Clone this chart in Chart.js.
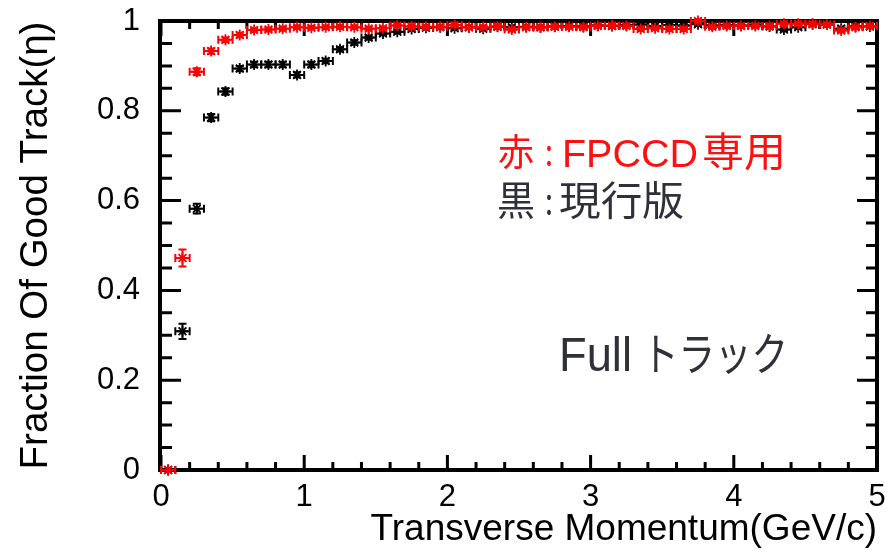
<!DOCTYPE html>
<html>
<head>
<meta charset="utf-8">
<script src="https://cdn.jsdelivr.net/npm/chart.js@4/dist/chart.umd.min.js"></script>
<style>
  html, body { margin: 0; padding: 0; background: #ffffff; }
  canvas { display: block; }
</style>
</head>
<body>
<canvas id="eff" width="891" height="553"></canvas>
<script>
// Transverse-momentum bin centres (GeV/c), 0.1 GeV/c wide bins
const ptBins = [
  0.05, 0.15, 0.25, 0.35, 0.45, 0.55, 0.65, 0.75, 0.85, 0.95,
  1.05, 1.15, 1.25, 1.35, 1.45, 1.55, 1.65, 1.75, 1.85, 1.95,
  2.05, 2.15, 2.25, 2.35, 2.45, 2.55, 2.65, 2.75, 2.85, 2.95,
  3.05, 3.15, 3.25, 3.35, 3.45, 3.55, 3.65, 3.75, 3.85, 3.95,
  4.05, 4.15, 4.25, 4.35, 4.45, 4.55, 4.65, 4.75, 4.85, 4.95
];
const binHalfWidth = 0.05;

// FPCCD-dedicated tracking: fraction of good tracks and its error
const fpccdEff = [
  0.000, 0.472, 0.887, 0.933, 0.958, 0.969, 0.980, 0.981, 0.983, 0.986,
  0.985, 0.986, 0.987, 0.986, 0.983, 0.984, 0.990, 0.988, 0.987, 0.987,
  0.991, 0.986, 0.986, 0.988, 0.981, 0.986, 0.986, 0.987, 0.987, 0.986,
  0.989, 0.990, 0.989, 0.982, 0.984, 0.982, 0.982, 1.000, 0.987, 0.989,
  0.989, 0.989, 0.989, 0.994, 0.994, 0.994, 0.992, 0.979, 0.986, 0.989
];
const fpccdErr = [
  0.000, 0.019, 0.008, 0.006, 0.005, 0.005, 0.004, 0.004, 0.004, 0.004,
  0.004, 0.004, 0.004, 0.004, 0.004, 0.004, 0.004, 0.004, 0.004, 0.004,
  0.004, 0.004, 0.004, 0.004, 0.004, 0.004, 0.004, 0.004, 0.004, 0.004,
  0.004, 0.004, 0.004, 0.004, 0.004, 0.004, 0.004, 0.004, 0.004, 0.004,
  0.004, 0.004, 0.004, 0.004, 0.004, 0.004, 0.004, 0.004, 0.004, 0.004
];

// Current tracking: fraction of good tracks and its error
const currentEff = [
  0.000, 0.309, 0.582, 0.785, 0.843, 0.894, 0.903, 0.903, 0.903, 0.880,
  0.903, 0.911, 0.937, 0.952, 0.963, 0.972, 0.976, 0.982, 0.985, 0.986,
  0.984, 0.986, 0.983, 0.987, 0.986, 0.987, 0.986, 0.988, 0.989, 0.988,
  0.990, 0.989, 0.991, 0.992, 0.989, 0.991, 0.990, 0.993, 0.990, 0.991,
  0.990, 0.992, 0.988, 0.981, 0.986, 0.993, 0.992, 0.983, 0.988, 0.988
];
const currentErr = [
  0.000, 0.017, 0.011, 0.008, 0.007, 0.006, 0.006, 0.006, 0.006, 0.006,
  0.006, 0.005, 0.005, 0.005, 0.004, 0.004, 0.004, 0.004, 0.004, 0.004,
  0.004, 0.004, 0.004, 0.004, 0.004, 0.004, 0.004, 0.004, 0.004, 0.004,
  0.004, 0.004, 0.004, 0.004, 0.004, 0.004, 0.004, 0.004, 0.004, 0.004,
  0.004, 0.004, 0.004, 0.004, 0.004, 0.004, 0.004, 0.004, 0.004, 0.004
];

// Axis tick values
const xMajorTicks = [0, 1, 2, 3, 4, 5];
const yMajorTicks = [0, 0.2, 0.4, 0.6, 0.8, 1];
const xMinorStep = 0.2;
const yMinorStep = 0.05;

const RED = '#ff0000';
const BLACK = '#000000';
const AXIS_FONT = "'Liberation Sans', Arial, sans-serif";
const JP_FONT = "'Noto Sans CJK JP', 'Noto Sans', sans-serif";

function toPoints(ys, errs) {
  return ptBins.map((x, i) => ({ x: x, y: ys[i], ex: binHalfWidth, ey: errs[i] }));
}

// Horizontal (bin width) and vertical (statistical) error bars with end caps
const errorBars = {
  id: 'errorBars',
  afterDatasetDraw(chart, args) {
    const { ctx, scales: { x: xs, y: ys } } = chart;
    const ds = chart.data.datasets[args.index];
    const cap = 4;
    ctx.save();
    ctx.strokeStyle = ds.borderColor;
    ctx.lineWidth = 2;
    ds.data.forEach(p => {
      const px = xs.getPixelForValue(p.x);
      const py = ys.getPixelForValue(p.y);
      const x0 = xs.getPixelForValue(p.x - p.ex);
      const x1 = xs.getPixelForValue(p.x + p.ex);
      const y0 = ys.getPixelForValue(p.y - p.ey);
      const y1 = ys.getPixelForValue(p.y + p.ey);
      ctx.beginPath();
      ctx.moveTo(x0, py); ctx.lineTo(x1, py);
      ctx.moveTo(x0, py - cap); ctx.lineTo(x0, py + cap);
      ctx.moveTo(x1, py - cap); ctx.lineTo(x1, py + cap);
      if (p.ey > 0) {
        ctx.moveTo(px, y0); ctx.lineTo(px, y1);
        ctx.moveTo(px - cap, y0); ctx.lineTo(px + cap, y0);
        ctx.moveTo(px - cap, y1); ctx.lineTo(px + cap, y1);
      }
      ctx.stroke();
      ctx.fillStyle = ds.borderColor;
      ctx.fillRect(px - 2, py - 2, 4, 4);
    });
    ctx.restore();
  }
};

// Thick frame with inward ticks on all four sides
const frame = {
  id: 'frame',
  beforeDatasetsDraw(chart) {
    const { ctx, chartArea: a, scales: { x: xs, y: ys } } = chart;
    ctx.save();
    ctx.strokeStyle = '#000';
    ctx.lineCap = 'butt';
    ctx.lineWidth = 3;
    ctx.beginPath();
    const nx = Math.round((xs.max - xs.min) / xMinorStep);
    for (let i = 0; i <= nx; i++) {
      const v = xs.min + i * xMinorStep;
      const major = xMajorTicks.some(t => Math.abs(t - v) < 1e-6);
      const len = major ? 15 : 8;
      const px = xs.getPixelForValue(v);
      ctx.moveTo(px, a.bottom); ctx.lineTo(px, a.bottom - len);
      ctx.moveTo(px, a.top); ctx.lineTo(px, a.top + len);
    }
    const ny = Math.round((ys.max - ys.min) / yMinorStep);
    for (let i = 0; i <= ny; i++) {
      const v = ys.min + i * yMinorStep;
      const major = yMajorTicks.some(t => Math.abs(t - v) < 1e-6);
      const len = major ? 20 : 11;
      const py = ys.getPixelForValue(v);
      ctx.moveTo(a.left, py); ctx.lineTo(a.left + len, py);
      ctx.moveTo(a.right, py); ctx.lineTo(a.right - len, py);
    }
    ctx.stroke();
    ctx.lineWidth = 4;
    ctx.strokeRect(a.left - 1, a.top, a.right - a.left + 1, a.bottom - a.top);
    ctx.restore();
  }
};

// Text pieces squeezed or stretched to a given width
function fittedText(ctx, text, x, y, font, color, width) {
  ctx.save();
  ctx.font = font;
  ctx.fillStyle = color;
  ctx.textBaseline = 'alphabetic';
  const w = ctx.measureText(text).width;
  ctx.translate(x, y);
  if (width) ctx.scale(width / w, 1);
  ctx.fillText(text, 0, 0);
  ctx.restore();
}
const notes = {
  id: 'notes',
  afterDraw(chart) {
    const { ctx } = chart;
    const red = '#ff1010', dark = '#30303a';
    const jp37 = '37px ' + JP_FONT, jp40 = '40px ' + JP_FONT;
    fittedText(ctx, '赤', 498, 166, jp37, red, 36);
    fittedText(ctx, ':', 545, 166, jp37, red, 8);
    fittedText(ctx, 'FPCCD', 562, 167, '38px ' + AXIS_FONT, red, 136);
    fittedText(ctx, '専用', 702, 166, jp40, red, 84);
    fittedText(ctx, '黒', 497, 215, jp40, dark, 38);
    fittedText(ctx, ':', 545, 215, jp37, dark, 8);
    fittedText(ctx, '現行版', 559, 215, jp40, dark, 125);
    fittedText(ctx, 'Full', 559, 371, '48px ' + AXIS_FONT, dark, 73);
    fittedText(ctx, 'トラック', 642, 371, '45px ' + JP_FONT, dark, 146);
  }
};

new Chart(document.getElementById('eff'), {
  type: 'scatter',
  data: {
    datasets: [
      {
        label: 'FPCCD専用',
        data: toPoints(fpccdEff, fpccdErr),
        borderColor: RED,
        backgroundColor: RED,
        pointStyle: 'star',
        pointRadius: 5.5,
        pointBorderWidth: 1.8,
        clip: false
      },
      {
        label: '現行版',
        data: toPoints(currentEff, currentErr),
        borderColor: BLACK,
        backgroundColor: BLACK,
        pointStyle: 'star',
        pointRadius: 5.5,
        pointBorderWidth: 1.8,
        clip: false
      }
    ]
  },
  options: {
    responsive: false,
    animation: false,
    events: [],
    layout: { padding: { left: 0, right: 14, top: 21, bottom: 0 } },
    plugins: { legend: { display: false }, tooltip: { enabled: false } },
    scales: {
      x: {
        type: 'linear',
        min: 0, max: 5,
        grid: { display: false, drawTicks: false },
        border: { display: false },
        afterBuildTicks: s => { s.ticks = xMajorTicks.map(v => ({ value: v })); },
        afterFit: s => { s.height = 83; s.paddingLeft = 0; s.paddingRight = 0; },
        ticks: {
          color: '#000',
          font: { family: AXIS_FONT, size: 31 },
          padding: 9,
          maxRotation: 0,
          autoSkip: false,
          callback: v => String(v)
        },
        title: {
          display: true,
          text: 'Transverse Momentum(GeV/c)',
          align: 'end',
          color: '#000',
          font: { family: AXIS_FONT, size: 37 },
          padding: { top: 0, bottom: 1 }
        }
      },
      y: {
        type: 'linear',
        min: 0, max: 1,
        grid: { display: false, drawTicks: false },
        border: { display: false },
        afterBuildTicks: s => { s.ticks = yMajorTicks.map(v => ({ value: v })); },
        afterFit: s => { s.width = 161; s.paddingTop = 0; s.paddingBottom = 0; },
        ticks: {
          color: '#000',
          font: { family: AXIS_FONT, size: 31 },
          padding: 21,
          autoSkip: false,
          callback: v => String(v)
        },
        title: {
          display: true,
          text: 'Fraction Of Good Track(η)',
          align: 'center',
          color: '#000',
          font: { family: AXIS_FONT, size: 38.5 },
          padding: { top: 13, bottom: 0 }
        }
      }
    }
  },
  plugins: [frame, errorBars, notes]
});
</script>
</body>
</html>
